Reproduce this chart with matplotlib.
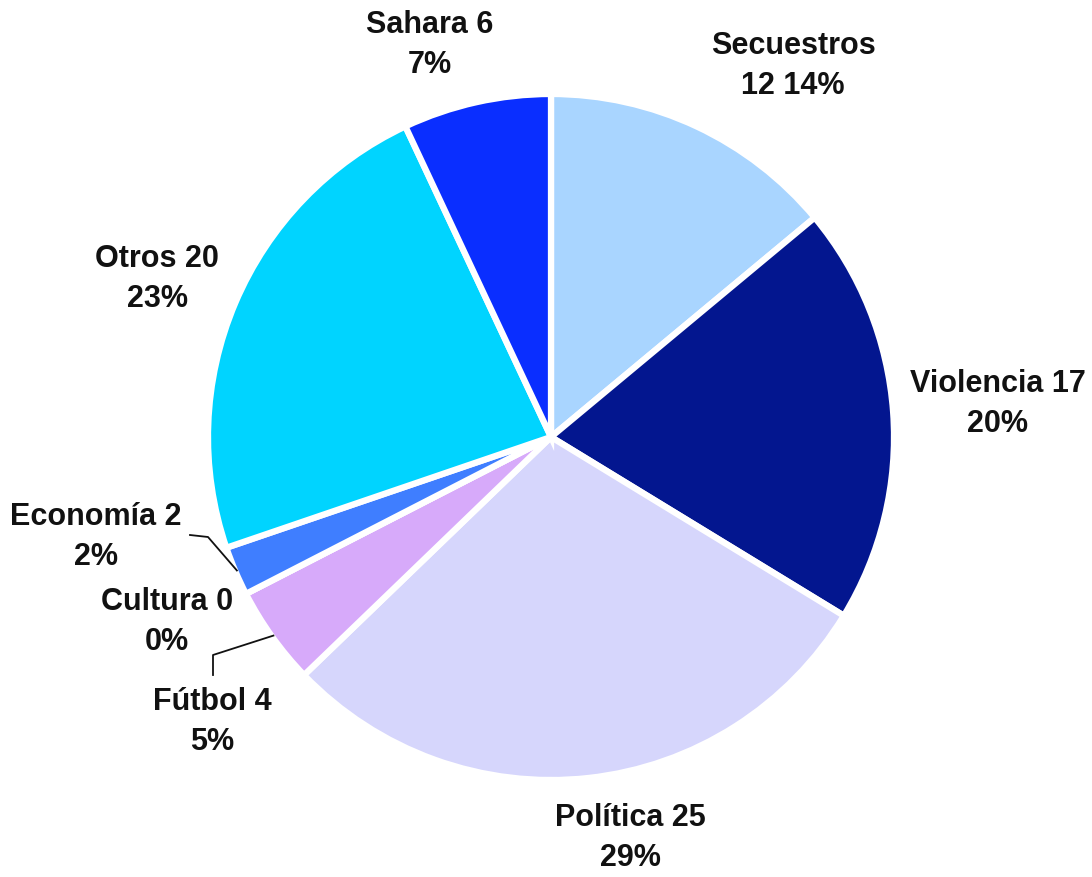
import matplotlib
matplotlib.use("Agg")
import matplotlib.pyplot as plt
import numpy as np

categories = ["Secuestros", "Violencia", "Política", "Fútbol", "Cultura", "Economía", "Otros", "Sahara"]
values = [12, 17, 25, 4, 0, 2, 20, 6]
percents = ["14%", "20%", "29%", "5%", "0%", "2%", "23%", "7%"]
colors = ["#A9D5FF", "#03168F", "#D6D6FC", "#D7AAFA", "#9999FF", "#3F7EFF", "#00D4FF", "#0A2EFF"]
explode = [0.01, 0.02, 0.02, 0.0, 0.0, 0.0, 0.0, 0.0]

W, H = 1092, 877
fig = plt.figure(figsize=(W / 100, H / 100), dpi=100)
ax = fig.add_axes([0, 0, 1, 1])

def py(y):
    return H - y

cx, cy, R = 551, py(437), 343
wedges, _ = ax.pie(values, colors=colors, explode=explode, startangle=90, counterclock=False,
                   center=(cx, cy), radius=R, frame=True,
                   wedgeprops=dict(edgecolor="white", linewidth=4.5))
ax.set_xlim(0, W)
ax.set_ylim(0, H)
ax.set_aspect("equal")
ax.axis("off")

label_texts = [
    "Secuestros\n12 14%",
    "Violencia 17\n20%",
    "Política 25\n29%",
    "Fútbol 4\n5%",
    "Cultura 0\n0%",
    "Economía 2\n2%",
    "Otros 20\n23%",
    "Sahara 6\n7%",
]
label_pos = [(793, 66), (998, 404), (630, 838), (212, 722), (167, 622), (96, 537), (157, 279), (430, 45)]

font = dict(family=["Liberation Sans", "DejaVu Sans"], fontsize=22, fontweight="bold", color="#111111")
for txt, (x, y) in zip(label_texts, label_pos):
    ax.text(x, py(y), txt, ha="center", va="center", linespacing=1.42, **font)

def edge_point(i, frac=1.0):
    w = wedges[i]
    mid = np.deg2rad((w.theta1 + w.theta2) / 2)
    c = w.center
    return c[0] + w.r * frac * np.cos(mid), c[1] + w.r * frac * np.sin(mid)

ex, ey = edge_point(5, 0.995)
ax.plot([190, 208, ex], [py(535), py(537), ey], color="#111111", lw=1.3)
fx, fy = edge_point(3, 0.995)
ax.plot([213, 213, fx], [py(675), py(655), fy], color="#111111", lw=1.3)

fig.savefig("out.png", dpi=100, facecolor="white")
